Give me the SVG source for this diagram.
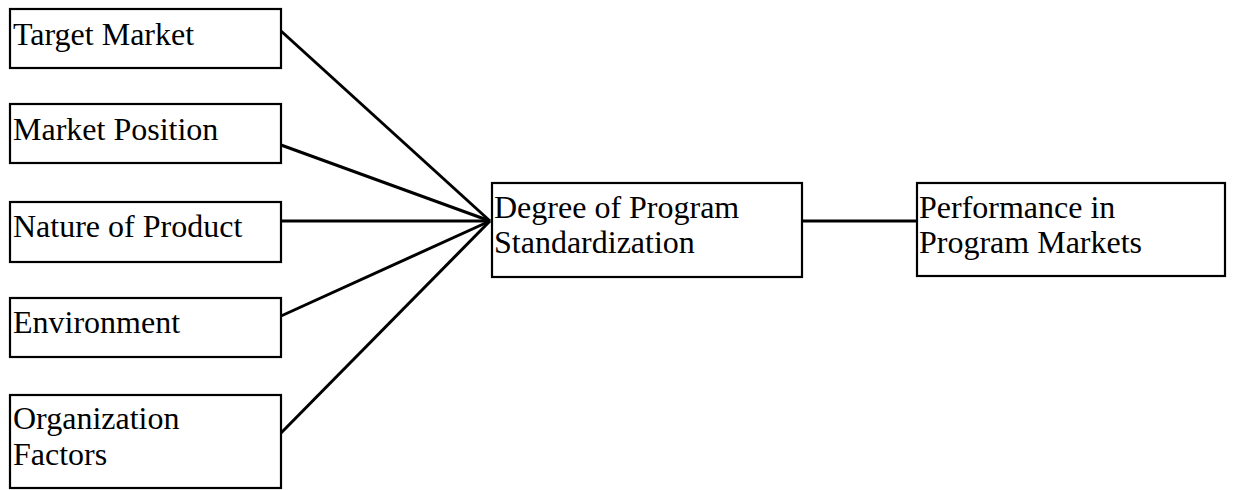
<svg xmlns="http://www.w3.org/2000/svg" width="1235" height="490" viewBox="0 0 1235 490">
<style>
.box{fill:#fff;stroke:#000;stroke-width:2.2}
.t{font-family:"Liberation Serif","Times New Roman",serif;font-size:32px;fill:#000}
.c{stroke:#000;stroke-width:3;fill:none}
</style>
<rect width="1235" height="490" fill="#fff"/>
<g id="connectors">
<line class="c" x1="281" y1="31" x2="490" y2="221"/>
<line class="c" x1="281" y1="145" x2="490" y2="221"/>
<line class="c" x1="281" y1="221" x2="490" y2="221"/>
<line class="c" x1="281" y1="316" x2="490" y2="221"/>
<line class="c" x1="281" y1="433" x2="490" y2="221"/>
<line class="c" x1="802" y1="221" x2="917" y2="221"/>
</g>
<g id="target-market"><rect class="box" x="10" y="9" width="271" height="59"/><text class="t" x="13" y="45">Target Market</text></g>
<g id="market-position"><rect class="box" x="10" y="104" width="271" height="59"/><text class="t" x="13" y="140">Market Position</text></g>
<g id="nature-of-product"><rect class="box" x="10" y="202" width="271" height="60"/><text class="t" x="13" y="237">Nature of Product</text></g>
<g id="environment"><rect class="box" x="10" y="298" width="271" height="59"/><text class="t" x="13" y="333">Environment</text></g>
<g id="organization-factors"><rect class="box" x="10" y="395" width="271" height="93"/><text class="t" x="13" y="429">Organization</text><text class="t" x="13" y="465">Factors</text></g>
<g id="degree"><rect class="box" x="492" y="183" width="310" height="94"/><text class="t" x="494" y="218">Degree of Program</text><text class="t" x="494" y="253">Standardization</text></g>
<g id="performance"><rect class="box" x="917" y="183" width="308" height="93"/><text class="t" x="919" y="218">Performance in</text><text class="t" x="919" y="253">Program Markets</text></g>
</svg>
